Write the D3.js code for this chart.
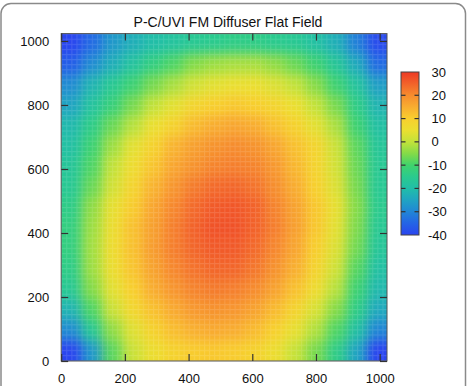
<!DOCTYPE html>
<html>
<head>
<meta charset="utf-8">
<script src="https://cdn.jsdelivr.net/npm/d3@7"></script>
<style>
  html, body { margin: 0; padding: 0; background: #fff; }
  svg { display: block; font-family: "Liberation Sans", Arial, Helvetica, sans-serif; }
</style>
</head>
<body>
<svg id="chart" width="469" height="386"></svg>
<script>
// ---------------- data ----------------
const title = "P-C/UVI FM Diffuser Flat Field";
const xTicks = [0, 200, 400, 600, 800, 1000];
const yTicks = [0, 200, 400, 600, 800, 1000];
const cbTicks = [-40, -30, -20, -10, 0, 10, 20, 30];
const pixelMax = 1023;
const cellSize = 64;
// cell centres (detector pixels)
const colCenters = [32, 96, 160, 224, 288, 352, 416, 480, 544, 608, 672, 736, 800, 864, 928, 992];
const rowCenters = [992, 928, 864, 800, 736, 672, 608, 544, 480, 416, 352, 288, 224, 160, 96, 32];
// flat-field deviation values, one row per rowCenters entry (top row first)
const row992 = [-41, -34, -27, -23, -20, -18, -16, -15, -14, -14, -15, -16, -19, -23, -31, -39];
const row928 = [-36, -29, -23, -18, -13, -9, -5, -3, -2, -2, -4, -7, -11, -17, -24, -34];
const row864 = [-29, -22, -16, -11, -6, -2, 2, 4, 5, 5, 3, 0, -5, -11, -18, -26];
const row800 = [-25, -18, -12, -6, 0, 4, 8, 10, 11, 10, 8, 5, 0, -6, -14, -22];
const row736 = [-21, -14, -7, -1, 5, 9, 13, 15, 16, 15, 12, 9, 4, -2, -11, -19];
const row672 = [-19, -11, -3, 4, 9, 14, 17, 19, 20, 19, 16, 12, 8, 1, -8, -17];
const row608 = [-17, -9, 0, 6, 11.5, 16, 19, 21, 21.5, 21, 18, 13.5, 8.5, 2, -7, -16];
const row544 = [-16, -7, 2, 8.5, 14, 18.5, 22, 24, 24.5, 23, 19.5, 15, 9.5, 3, -6, -16];
const row480 = [-14, -4, 4.5, 10.5, 16, 20.5, 24, 26, 26.5, 25, 21, 16.5, 11, 4.5, -5, -15];
const row416 = [-13, -3, 5.5, 12, 17, 21.5, 25, 27, 27, 25, 21.5, 17, 11, 4, -5.5, -16];
const row352 = [-13, -2.5, 6, 12, 17.5, 21.5, 24.5, 26, 26, 24, 20.5, 16, 10, 3, -6.5, -17];
const row288 = [-14, -3, 5.5, 11.5, 16.5, 20.5, 23, 24.5, 24.5, 22.5, 19, 14.5, 8.5, 1.5, -8.5, -19];
const row224 = [-16, -5, 4, 10, 15, 18.5, 21, 22, 21.5, 20, 16.5, 12, 6, -1, -11, -21];
const row160 = [-22, -9, 1, 7.5, 12, 15.5, 18, 19, 18.5, 16.5, 13, 8.5, 2.5, -5, -14, -24];
const row96  = [-29, -16, -4, 3.5, 9, 12.5, 14.5, 15.5, 15, 13, 9.5, 4.5, -1.5, -9, -19, -30];
const row32  = [-43, -27, -8, 1, 5.5, 9, 10.5, 11, 10.5, 9, 5.5, 0.5, -6, -14, -25, -41];
const values = [row992, row928, row864, row800, row736, row672, row608, row544,
                row480, row416, row352, row288, row224, row160, row96, row32];
// colour map stops
const colorStops = [-40, -35, -30, -25, -20, -15, -10, -5, 0, 5, 10, 15, 20, 25, 30];
const colorHex = ["#2a45ef", "#2464e6", "#2186d6", "#20a4c2", "#21bea8", "#2aca8e", "#40d36c",
                  "#84db48", "#c2e23a", "#ebdf30", "#f8cf2e", "#f8ad30", "#f68c2e", "#f2622a", "#ee3a24"];

// ---------------- layout ----------------
const svg = d3.select("#chart");
const plot = { left: 61.2, right: 387, top: 33.6, bottom: 361 };
const cb = { left: 401, right: 419, top: 72, bottom: 235 };

const x = d3.scaleLinear().domain([0, pixelMax]).range([plot.left, plot.right]);
const y = d3.scaleLinear().domain([0, pixelMax]).range([plot.bottom, plot.top]);
const color = d3.scaleLinear().domain(colorStops).range(colorHex).clamp(true);
const cbScale = d3.scaleLinear().domain([-40, 30]).range([cb.bottom, cb.top]);

// outer rounded frame
svg.append("rect")
  .attr("x", 1).attr("y", 3.5).attr("width", 464.5).attr("height", 420)
  .attr("rx", 10).attr("fill", "#fff").attr("stroke", "#8a8a8a").attr("stroke-width", 1.5);

const defs = svg.append("defs");
defs.append("clipPath").attr("id", "plotClip").append("rect")
  .attr("x", plot.left).attr("y", plot.top)
  .attr("width", plot.right - plot.left).attr("height", plot.bottom - plot.top);
const filt = defs.append("filter").attr("id", "smooth")
  .attr("x", "-5%").attr("y", "-5%").attr("width", "110%").attr("height", "110%")
  .attr("color-interpolation-filters", "sRGB");
filt.append("feGaussianBlur").attr("in", "SourceGraphic").attr("stdDeviation", 6);
filt.append("feComponentTransfer").append("feFuncA").attr("type", "table").attr("tableValues", "1 1");

// faint detector mesh texture
const mesh = defs.append("pattern").attr("id", "mesh").attr("patternUnits", "userSpaceOnUse")
  .attr("x", plot.left).attr("y", plot.top).attr("width", 5.1).attr("height", 5.1);
mesh.append("path").attr("d", "M0,0.5H5.1M0.5,0V5.1").attr("stroke", "#fff")
  .attr("stroke-width", 1).attr("stroke-opacity", 0.13).attr("fill", "none");

// heat-map cells
const cells = [];
values.forEach((row, ri) => row.forEach((v, ci) => cells.push({ cx: colCenters[ci], cy: rowCenters[ri], v })));

const heat = svg.append("g").attr("clip-path", "url(#plotClip)").attr("filter", "url(#smooth)");
heat.selectAll("rect").data(cells).join("rect")
  .attr("x", d => x(Math.max(0, d.cx - cellSize / 2)))
  .attr("y", d => y(Math.min(pixelMax, d.cy + cellSize / 2)))
  .attr("width", d => x(Math.min(pixelMax, d.cx + cellSize / 2)) - x(Math.max(0, d.cx - cellSize / 2)) + 0.5)
  .attr("height", d => y(Math.max(0, d.cy - cellSize / 2)) - y(Math.min(pixelMax, d.cy + cellSize / 2)) + 0.5)
  .attr("fill", d => color(d.v));

svg.append("rect")
  .attr("x", plot.left).attr("y", plot.top)
  .attr("width", plot.right - plot.left).attr("height", plot.bottom - plot.top)
  .attr("fill", "url(#mesh)");

// frame
svg.append("rect")
  .attr("x", plot.left).attr("y", plot.top)
  .attr("width", plot.right - plot.left).attr("height", plot.bottom - plot.top)
  .attr("fill", "none").attr("stroke", "#555").attr("stroke-width", 1);

// axes (ticks inside, mirrored)
const tickLen = 7;
const fmt = d3.format("d");
const axisStyle = g => {
  g.select(".domain").remove();
  g.selectAll(".tick line").attr("stroke", "#333").attr("stroke-width", 1.2);
  g.selectAll(".tick text").attr("fill", "#111").style("font-size", "13px")
    .style("font-family", '"Liberation Sans", Arial, sans-serif');
};
svg.append("g").attr("transform", `translate(0,${plot.bottom})`)
  .call(d3.axisBottom(x).tickValues(xTicks).tickFormat(fmt).tickSizeInner(-tickLen).tickSizeOuter(0).tickPadding(13))
  .call(axisStyle);
svg.append("g").attr("transform", `translate(0,${plot.top})`)
  .call(d3.axisTop(x).tickValues(xTicks).tickSizeInner(-tickLen).tickSizeOuter(0).tickFormat(""))
  .call(axisStyle);
svg.append("g").attr("transform", `translate(${plot.left},0)`)
  .call(d3.axisLeft(y).tickValues(yTicks).tickFormat(fmt).tickSizeInner(-tickLen).tickSizeOuter(0).tickPadding(12))
  .call(axisStyle);
svg.append("g").attr("transform", `translate(${plot.right},0)`)
  .call(d3.axisRight(y).tickValues(yTicks).tickSizeInner(-tickLen).tickSizeOuter(0).tickFormat(""))
  .call(axisStyle);

// title
svg.append("text").attr("x", 228).attr("y", 26.7).attr("text-anchor", "middle")
  .attr("fill", "#111").style("font-size", "14px").text(title);

// colour bar
const cbGradId = "cbGrad";
const grad = defs.append("linearGradient").attr("id", cbGradId)
  .attr("x1", 0).attr("y1", 1).attr("x2", 0).attr("y2", 0);
colorStops.forEach((s, i) => grad.append("stop")
  .attr("offset", (s - colorStops[0]) / (colorStops[colorStops.length - 1] - colorStops[0]))
  .attr("stop-color", colorHex[i]));
svg.append("rect").attr("x", cb.left).attr("y", cb.top)
  .attr("width", cb.right - cb.left).attr("height", cb.bottom - cb.top)
  .attr("fill", `url(#${cbGradId})`).attr("stroke", "#444").attr("stroke-width", 1);
const cbInner = cbTicks.filter(t => t > -40 && t < 30);
svg.append("g").selectAll("line.l").data(cbInner).join("line")
  .attr("x1", cb.left).attr("x2", cb.left + 4.5)
  .attr("y1", d => cbScale(d)).attr("y2", d => cbScale(d))
  .attr("stroke", "#333").attr("stroke-width", 1.2);
svg.append("g").selectAll("line.r").data(cbInner).join("line")
  .attr("x1", cb.right - 4.5).attr("x2", cb.right)
  .attr("y1", d => cbScale(d)).attr("y2", d => cbScale(d))
  .attr("stroke", "#333").attr("stroke-width", 1.2);
svg.append("g").selectAll("text").data(cbTicks).join("text")
  .attr("x", d => d < 0 ? 428 : 431.5)
  .attr("y", d => cbScale(d)).attr("dy", "0.35em")
  .attr("fill", "#111").style("font-size", "13px")
  .text(d => d);
</script>
</body>
</html>
